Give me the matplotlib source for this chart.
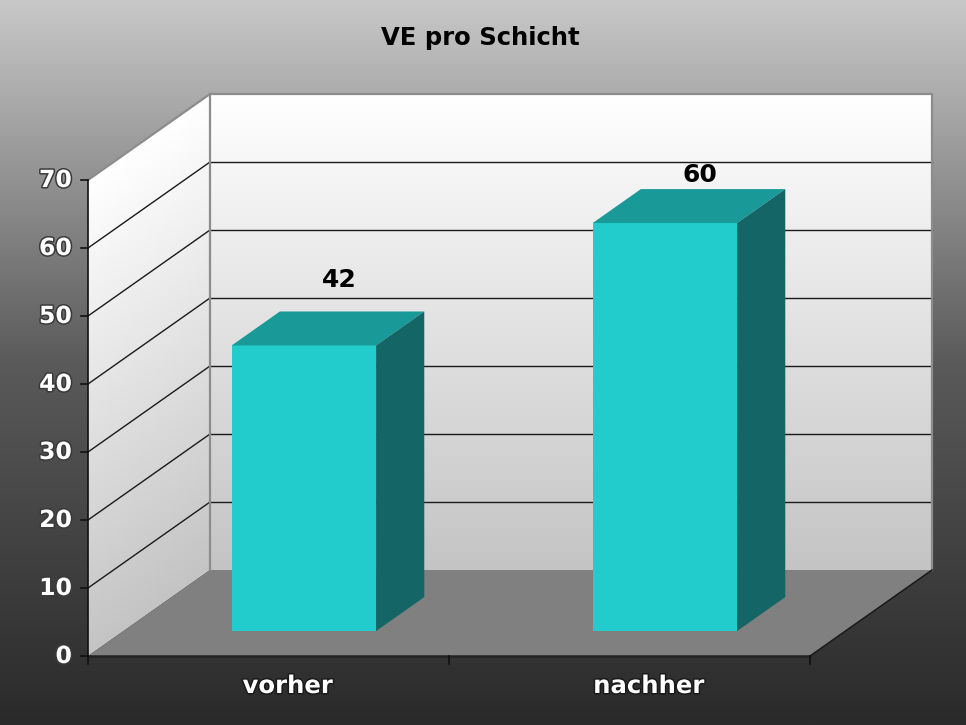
import numpy as np
import matplotlib.pyplot as plt
from matplotlib.patches import Polygon
from matplotlib.colors import LinearSegmentedColormap
import matplotlib.patheffects as pe

categories = ["vorher", "nachher"]
values = [42, 60]
y_ticks = [0, 10, 20, 30, 40, 50, 60, 70]
title = "VE pro Schicht"

# front plane of the 3d box, in pixels of the 966x725 picture
W, H = 966, 725
px_left, px_right = 88, 810
px_base, px_top = 656, 180
ymax = y_ticks[-1]
n = len(categories)

sx = (px_right - px_left) / n
sy = (px_base - px_top) / ymax
DX = 122 / sx          # depth of the box in data units
DY = 86 / sy
d0, d1 = 0.29, 0.685   # bars sit between these depth fractions
bw = 0.4
label_pad = [31, 14]   # pixels above the bar tops

fig = plt.figure(figsize=(W / 100, H / 100), dpi=100)
ax = fig.add_axes([0, 0, 1, 1])
x_lo, x_hi = -px_left / sx, (W - px_left) / sx
y_lo, y_hi = -(H - px_base) / sy, px_base / sy
ax.set_xlim(x_lo, x_hi)
ax.set_ylim(y_lo, y_hi)
ax.axis("off")

# background gradient
bg = LinearSegmentedColormap.from_list("bg", ["#2a2a2a", "#5a5a5a", "#c8c8c8"])
ax.imshow(np.linspace(0, 1, 256).reshape(-1, 1), cmap=bg, origin="lower",
          extent=[x_lo, x_hi, y_lo, y_hi], aspect="auto", zorder=0)

wall = LinearSegmentedColormap.from_list("wall", ["#c4c4c4", "#ffffff"])

# back wall
ax.imshow(np.linspace(0, 1, 256).reshape(-1, 1), cmap=wall, origin="lower",
          extent=[DX, n + DX, DY, ymax + DY], aspect="auto", zorder=1)

# left wall, shaded by value
gx, gy = np.meshgrid(np.linspace(0, DX, 60), np.linspace(0, ymax + DY, 300))
t = np.clip((gy - gx / DX * DY) / ymax, 0, 1)
im = ax.imshow(t, cmap=wall, origin="lower", extent=[0, DX, 0, ymax + DY],
               aspect="auto", zorder=1)
side_poly = Polygon([(0, 0), (0, ymax), (DX, ymax + DY), (DX, DY)],
                    closed=True, fc="none", ec="none", transform=ax.transData)
ax.add_patch(side_poly)
im.set_clip_path(side_poly)

# floor
ax.add_patch(Polygon([(0, 0), (n, 0), (n + DX, DY), (DX, DY)],
                     closed=True, fc="#808080", ec="none", zorder=2))

# grid lines
for v in y_ticks[1:-1]:
    ax.plot([DX, n + DX], [v + DY, v + DY], color="#1a1a1a", lw=1, zorder=3)
    ax.plot([0, DX], [v, v + DY], color="#1a1a1a", lw=1, zorder=3)

edge = "#8c8c8c"
ax.plot([0, DX, n + DX, n + DX], [ymax, ymax + DY, ymax + DY, DY],
        color=edge, lw=1.6, zorder=3)
ax.plot([DX, DX], [DY, ymax + DY], color=edge, lw=1.6, zorder=3)
ax.plot([n, n + DX], [0, DY], color="#1a1a1a", lw=1.1, zorder=3)

# front axes
ax.plot([0, 0], [0, ymax], color="#111111", lw=1.2, zorder=4)
ax.plot([0, n], [0, 0], color="#222222", lw=1.8, zorder=4)
for v in y_ticks:
    ax.plot([0, -7 / sx], [v, v], color="#111111", lw=1.2, zorder=4)
    ax.text(-16 / sx, v, str(v), ha="right", va="center", color="white",
            fontsize=17, fontweight="bold", zorder=5,
            path_effects=[pe.withStroke(linewidth=2.2, foreground="#3a3a3a")])
for k in range(n + 1):
    ax.plot([k, k], [0, -8 / sy], color="#111111", lw=1.2, zorder=4)

# bars
ddx, ddy = (d1 - d0) * DX, (d1 - d0) * DY
for i, v in enumerate(values):
    left = i + 0.5 - bw / 2 + d0 * DX
    right = left + bw
    bottom = d0 * DY
    top = v + d0 * DY
    ax.add_patch(Polygon([(left, bottom), (right, bottom), (right, top), (left, top)],
                         closed=True, fc="#22cccc", ec="none", zorder=6))
    ax.add_patch(Polygon([(left, top), (right, top), (right + ddx, top + ddy),
                          (left + ddx, top + ddy)],
                         closed=True, fc="#1a9999", ec="none", zorder=6))
    ax.add_patch(Polygon([(right, bottom), (right, top), (right + ddx, top + ddy),
                          (right + ddx, bottom + ddy)],
                         closed=True, fc="#146666", ec="none", zorder=6))
    ax.annotate(str(v), xy=(i + 0.5 + 0.58 * DX, v + d1 * DY),
                xytext=(0, label_pad[i]), textcoords="offset pixels",
                ha="center", va="center", fontsize=18, fontweight="bold",
                color="black", zorder=7)

# category labels
for i, c in enumerate(categories):
    ax.text(i + 0.5 + 0.155 * DX, -30 / sy, c, ha="center", va="center",
            color="white", fontsize=17.5, fontweight="bold", zorder=5,
            path_effects=[pe.withStroke(linewidth=2.2, foreground="#1a1a1a")])

fig.text(480 / W, 1 - 38 / H, title, ha="center", va="center",
         fontsize=17.5, fontweight="bold", color="black")

fig.savefig("out.png", dpi=100)
